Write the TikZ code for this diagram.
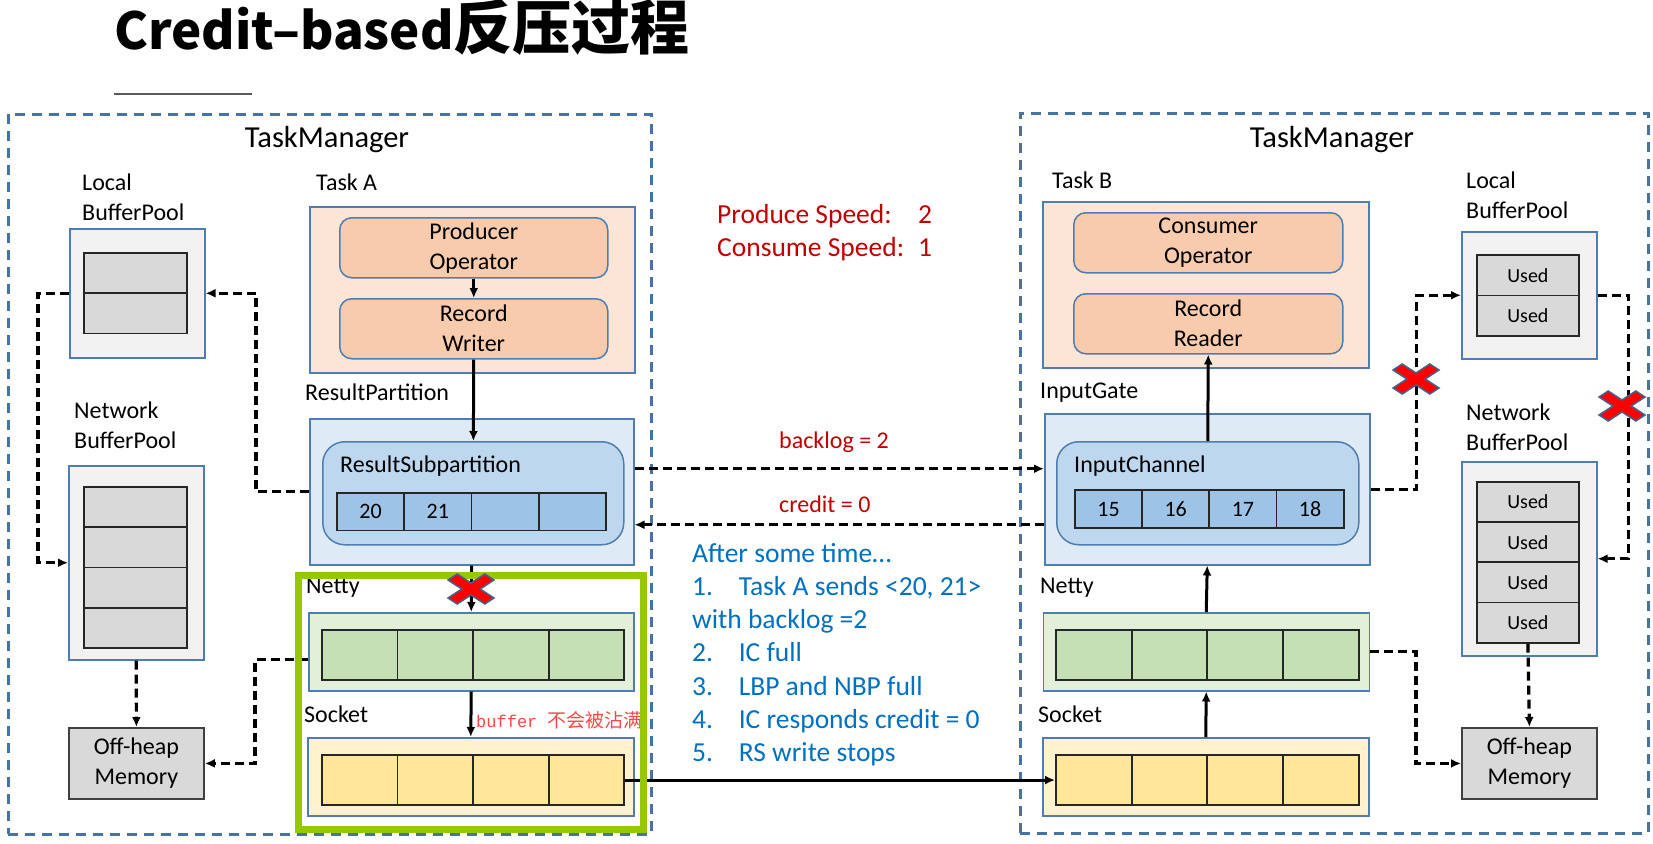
\documentclass[tikz,border=0pt]{standalone}
\usepackage{fontspec}
\setmainfont{Carlito}
\newfontfamily\ttlfont{Noto Sans CJK SC}
\newfontfamily\cjkfont{Noto Sans CJK SC}
\newfontfamily\bufmono{Liberation Mono}
\usepackage{tikz}
\usetikzlibrary{arrows.meta,positioning}

\definecolor{tmblue}{RGB}{70,115,160}
\definecolor{edgeblue}{RGB}{80,125,175}
\definecolor{poolback}{RGB}{242,242,242}
\definecolor{slotgray}{RGB}{217,217,217}
\definecolor{taskfill}{RGB}{251,229,214}
\definecolor{opfill}{RGB}{248,203,173}
\definecolor{partfill}{RGB}{222,235,247}
\definecolor{chanfill}{RGB}{189,215,238}
\definecolor{rsfill}{RGB}{157,195,230}
\definecolor{nettyback}{RGB}{226,240,217}
\definecolor{nettyfill}{RGB}{197,224,180}
\definecolor{sockback}{RGB}{255,242,204}
\definecolor{sockfill}{RGB}{255,230,153}
\definecolor{limegreen}{RGB}{150,200,0}
\definecolor{darkred}{RGB}{192,0,0}
\definecolor{stepblue}{RGB}{0,112,192}
\definecolor{notered}{RGB}{255,70,70}
\definecolor{xedge}{RGB}{65,100,140}
\definecolor{rulegray}{RGB}{90,90,90}

\newcommand\tmfont{\fontsize{30.5}{36}\selectfont}
\newcommand\lblfont{\fontsize{24}{30}\selectfont}
\newcommand\usedfont{\fontsize{20}{24}\selectfont}
\newcommand\digitfont{\fontsize{22}{26}\selectfont}
\newcommand\notefont{\fontsize{27.5}{33.3}\selectfont}
\newcommand\stepno[1]{\makebox[46.6pt][l]{#1}}
\newcommand\leftlines[1]{\begin{tabular}[t]{@{}l@{}}#1\end{tabular}}

\begin{document}
\begin{tikzpicture}[x=1pt,y=-1pt,
  wh/.style 2 args={minimum width=#1pt,minimum height=#2pt},
  tmbox/.style={draw=tmblue,line width=2.5pt,dash pattern=on 10pt off 7pt,anchor=north west,inner sep=0pt},
  tmtitle/.style={anchor=base,inner sep=0pt,font=\tmfont},
  lbl/.style={anchor=base west,inner sep=0pt,font=\lblfont},
  pool/.style={draw=edgeblue,line width=1.5pt,fill=poolback,anchor=north west,inner sep=0pt},
  slot/.style={draw=black!85,line width=1.8pt,anchor=north west,inner sep=0pt,font=\digitfont},
  memo/.style={draw=black!75,line width=1.8pt,fill=slotgray,anchor=north west,inner sep=0pt,align=center,font=\lblfont},
  taskbox/.style={draw=edgeblue,line width=1.5pt,fill=taskfill,anchor=north west,inner sep=0pt},
  opbox/.style={draw=edgeblue,line width=1.5pt,fill=opfill,rounded corners=12pt,anchor=north west,inner sep=0pt,align=center,font=\lblfont},
  partbox/.style={draw=edgeblue,line width=1.5pt,fill=partfill,anchor=north west,inner sep=0pt},
  chanbox/.style={draw=edgeblue,line width=1.5pt,fill=chanfill,rounded corners=22pt,anchor=north west,inner sep=0pt},
  nettybox/.style={draw=edgeblue,line width=1.5pt,fill=nettyback,anchor=north west,inner sep=0pt},
  sockbox/.style={draw=edgeblue,line width=1.5pt,fill=sockback,anchor=north west,inner sep=0pt},
  redtxt/.style={anchor=base west,inner sep=0pt,text=darkred,font=\notefont},
  redsmall/.style={anchor=base west,inner sep=0pt,text=darkred,font=\lblfont},
  arr/.style={-{Latex[length=10pt,width=9pt]},line width=3pt},
  darr/.style={-{Latex[length=10pt,width=9pt]},line width=3.2pt,dash pattern=on 9pt off 5pt},
  xmark/.pic={\path[fill=red,draw=xedge,line width=1.5pt,xscale=23,yscale=15]
    (-1,-0.6) -- (-0.6,-1) -- (0,-0.4) -- (0.6,-1) -- (1,-0.6) -- (0.4,0) -- (1,0.6)
    -- (0.6,1) -- (0,0.4) -- (-0.6,1) -- (-1,0.6) -- (-0.4,0) -- cycle;}
]
\useasboundingbox (0,0) rectangle (1653,843);

% title
\node[anchor=base west,inner sep=0pt,font={\ttlfont\bfseries}] (title) at (114,50)
  {\fontsize{51}{52}\selectfont Credit–based\fontsize{59}{60}\selectfont 反压过程};
\draw[rulegray,line width=1.5pt] (114,94) -- (252,94);

% the two task managers
\node[tmbox,wh={643}{720}] (tmL) at (7,113) {};
\node[tmbox,wh={628}{720}] (tmR) at (1019,112) {};
\node[tmtitle] (tmLname) at (327,147) {TaskManager};
\node[tmtitle] (tmRname) at (1332,147) {TaskManager};

% left: buffer pools
\node[lbl] (lbpLname) at (82,190) {\leftlines{Local\\BufferPool}};
\node[pool,wh={135}{129}] (lbpL) at (69,228) {};
\foreach \i in {1,2}
  \node[slot,fill=slotgray,wh={103}{40.3}] (lbL\i) at (83,{252+40.3*(\i-1)}) {};
\node[lbl] (nbpLname) at (74,418) {\leftlines{Network\\BufferPool}};
\node[pool,wh={135}{194}] (nbpL) at (68,465) {};
\foreach \i in {1,...,4}
  \node[slot,fill=slotgray,wh={103}{40.25}] (nbL\i) at (83,{486+40.25*(\i-1)}) {};
\node[memo,wh={135}{71}] (offL) at (68,727) {Off-heap\\Memory};

% left: task A
\node[lbl] (taskAname) at (316,190) {Task A};
\node[taskbox,wh={325}{166}] (taskA) at (309,206) {};
\node[opbox,wh={268}{60}] (prodOp) at (339,217) {Producer\\Operator};
\node[opbox,wh={268}{60}] (recWr) at (339,298) {Record\\Writer};
\node[lbl] (rpAname) at (305,400) {ResultPartition};
\node[partbox,wh={324}{146}] (rpA) at (309,418) {};
\node[chanbox,wh={301}{103}] (rsA) at (322,441) {};
\node[lbl] (rsAname) at (340,472) {ResultSubpartition};
\foreach \i/\t in {1/20,2/21,3/{},4/{}}
  \node[slot,fill=rsfill,wh={67.3}{37.6}] (rs\i) at ({336+67.3*(\i-1)},492) {\t};

% left: netty and socket
\node[lbl] (nettyLname) at (306,593) {Netty};
\node[nettybox,wh={325}{78}] (nettyL) at (308,612) {};
\foreach \i in {1,...,4}
  \node[slot,fill=nettyfill,wh={75.6}{50.3}] (ntL\i) at ({321+75.6*(\i-1)},629) {};
\node[lbl] (sockLname) at (304,722) {Socket};
\node[sockbox,wh={326}{78}] (sockL) at (307,737) {};
\foreach \i in {1,...,4}
  \node[slot,fill=sockfill,wh={75.6}{50.3}] (skL\i) at ({321+75.6*(\i-1)},754) {};
\node[anchor=base west,inner sep=0pt,text=notered] (bufnote) at (476,727)
  {\bufmono\fontsize{17}{20}\selectfont buffer \cjkfont\fontsize{19}{20}\selectfont 不会被沾满};

% right: task B
\node[lbl] (taskBname) at (1052,188) {Task B};
\node[taskbox,wh={326}{166}] (taskB) at (1042,201) {};
\node[opbox,wh={269}{60}] (consOp) at (1073,212) {Consumer\\Operator};
\node[opbox,wh={269}{60}] (recRd) at (1073,293) {Record\\Reader};
\node[lbl] (igBname) at (1040,398) {InputGate};
\node[partbox,wh={325}{151}] (igB) at (1044,413) {};
\node[chanbox,wh={302}{103}] (icB) at (1056,441) {};
\node[lbl] (icBname) at (1074,472) {InputChannel};
\foreach \i/\t in {1/15,2/16,3/17,4/18}
  \node[slot,fill=rsfill,wh={67.2}{38.4}] (ic\i) at ({1074+67.2*(\i-1)},489) {\t};

% right: netty and socket
\node[lbl] (nettyRname) at (1040,593) {Netty};
\node[nettybox,wh={326}{78}] (nettyR) at (1042.5,612) {};
\foreach \i in {1,...,4}
  \node[slot,fill=nettyfill,wh={75.7}{50.3}] (ntR\i) at ({1055+75.7*(\i-1)},629) {};
\node[lbl] (sockRname) at (1038,722) {Socket};
\node[sockbox,wh={326}{78}] (sockR) at (1042,737) {};
\foreach \i in {1,...,4}
  \node[slot,fill=sockfill,wh={75.7}{50.3}] (skR\i) at ({1055+75.7*(\i-1)},754) {};

% right: buffer pools
\node[lbl] (lbpRname) at (1466,188) {\leftlines{Local\\BufferPool}};
\node[pool,wh={135}{127}] (lbpR) at (1461,231) {};
\foreach \i in {1,2}
  \node[slot,fill=slotgray,wh={102}{40.5},font=\usedfont] (lbR\i) at (1476,{254+40.5*(\i-1)}) {Used};
\node[lbl] (nbpRname) at (1466,420) {\leftlines{Network\\BufferPool}};
\node[pool,wh={135}{194}] (nbpR) at (1461,461) {};
\foreach \i in {1,...,4}
  \node[slot,fill=slotgray,wh={102}{40.2},font=\usedfont] (nbR\i) at (1476,{481+40.2*(\i-1)}) {Used};
\node[memo,wh={135}{71}] (offR) at (1461,727) {Off-heap\\Memory};

% middle notes
\node[redtxt] (speed) at (717,223) {\begin{tabular}[t]{@{}l@{\hspace{14pt}}l@{}}Produce Speed: & 2\\Consume Speed: & 1\end{tabular}};
\node[redsmall] (bklText) at (779,448) {backlog = 2};
\node[redsmall] (crdText) at (779,512) {credit = 0};
\node[anchor=base west,inner sep=0pt,text=stepblue,font=\notefont] (steps) at (692,562)
  {\leftlines{After some time…\\\stepno{1.}Task A sends <20, 21>\\with backlog =2\\\stepno{2.}IC full\\
   \stepno{3.}LBP and NBP full\\\stepno{4.}IC responds credit = 0\\\stepno{5.}RS write stops}};

% data path
\draw[arr] (prodOp) -- (recWr);
\draw[arr] (recWr) -- (rsA);
\draw[arr] (rpA.south) -- (nettyL.north);
\draw[arr] (nettyL.south) -- (sockL.north);
\draw[arr] (skL4.east) -- (skR1.west);
\draw[arr] (sockR.north) -- (nettyR.south);
\draw[arr] (nettyR.north) -- (igB.south);
\draw[arr] (icB.north) -- (recRd.south);

% backlog and credit
\coordinate (bklA) at ([yshift=23pt]rpA.east);
\coordinate (bklB) at (bklA -| igB.west);
\coordinate (crdA) at ([yshift=-35.5pt]igB.west);
\coordinate (crdB) at (crdA -| rpA.east);
\draw[darr] (bklA) -- (bklB);
\draw[darr] (crdA) -- (crdB);

% buffer requests
\draw[darr] (rpA.west) -- ++(-53,0) |- (lbpL.east);
\draw[darr] (lbpL.west) -- ++(-31,0) |- (nbpL.west);
\draw[darr] (nbpL.south) -- (offL.north);
\draw[darr] ([yshift=-8pt]nettyL.west) -- ++(-53,0) |- (offL.east);
\draw[darr] (igB.east) -- ++(46,0) |- (lbpR.west);
\draw[darr] (lbpR.east) -- ++(31,0) |- (nbpR.east);
\draw[darr] (nbR4.south) -- (offR.north);
\draw[darr] (nettyR.east) -- ++(46,0) |- (offR.west);

% highlight and blocked paths
\node[draw=limegreen,line width=7pt,wh={345.5}{254.5},anchor=north west,inner sep=0pt] (hilite) at (294.5,571.5) {};
\pic (xA) at (471,589) {xmark};
\pic (xB) at (1416,379) {xmark};
\pic (xC) at (1622,406) {xmark};
\end{tikzpicture}
\end{document}
